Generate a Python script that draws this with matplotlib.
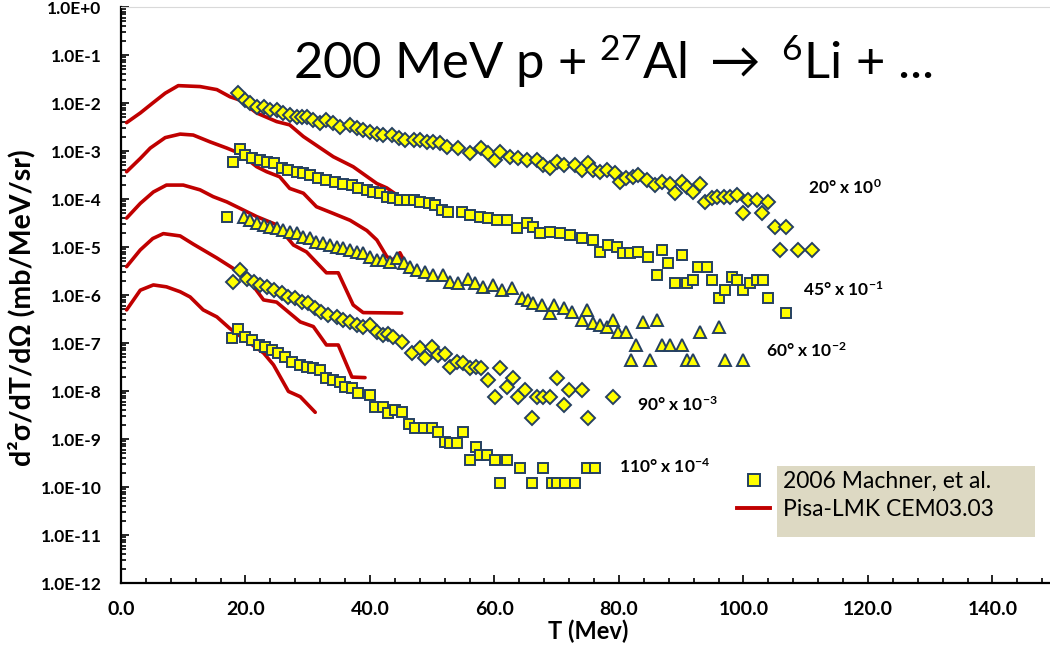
import numpy as np
import matplotlib.pyplot as plt
from matplotlib.ticker import FixedLocator, MultipleLocator, FuncFormatter, NullFormatter
from matplotlib.lines import Line2D
from matplotlib.patches import Rectangle

plt.rcParams['font.family'] = ['Lato', 'DejaVu Sans']
plt.rcParams['mathtext.fontset'] = 'custom'
plt.rcParams['mathtext.rm'] = 'Lato'
plt.rcParams['mathtext.it'] = 'Lato:italic'
plt.rcParams['mathtext.bf'] = 'Lato:bold'

# ---- measured data (2006 Machner, et al.), already scaled per angle ----
T20 = [18.8, 19.9, 20.7, 21.8, 22.9, 23.9, 25.0, 26.1, 27.2, 28.2, 29.0, 29.8, 30.9, 32.0, 33.0, 34.1,
       35.2, 36.8, 37.9, 38.9, 40.0, 41.1, 42.1, 43.5, 44.6, 45.6, 47.0, 48.0, 49.1, 50.2, 51.3, 52.3,
       54.2, 56.1, 57.9, 59.0, 60.1, 60.9, 62.5, 63.8, 65.2, 66.8, 67.8, 68.9, 70.0, 71.1, 72.9, 74.0,
       75.1, 75.9, 77.0, 78.0, 79.4, 80.2, 81.2, 82.3, 83.1, 84.5, 85.8, 86.9, 88.2, 89.0, 90.1, 90.9,
       91.9, 93.0, 93.8, 94.9, 95.7, 96.8, 97.8, 98.9, 100.0, 100.8, 102.1, 102.9, 104.0, 105.1, 106.9,
       105.9, 108.8, 111.0]
v20 = [1.59e-2, 1.15e-2, 9.9e-3, 8.4e-3, 8.4e-3, 7.1e-3, 7.1e-3, 6.1e-3, 5.6e-3, 5.2e-3, 5.0e-3, 5.2e-3,
       4.4e-3, 3.8e-3, 4.4e-3, 3.8e-3, 3.2e-3, 3.5e-3, 3.0e-3, 2.7e-3, 2.5e-3, 2.3e-3, 2.15e-3, 2.15e-3,
       1.84e-3, 1.7e-3, 1.7e-3, 1.7e-3, 1.56e-3, 1.56e-3, 1.45e-3, 1.23e-3, 1.14e-3, 8.95e-4, 1.14e-3,
       8.95e-4, 6.5e-4, 9.7e-4, 7.6e-4, 7.0e-4, 6.5e-4, 6.5e-4, 5.1e-4, 4.4e-4, 6.0e-4, 5.1e-4, 5.1e-4,
       4.0e-4, 5.5e-4, 4.0e-4, 3.7e-4, 4.0e-4, 3.4e-4, 2.3e-4, 2.7e-4, 2.9e-4, 3.2e-4, 2.5e-4, 1.96e-4,
       2.3e-4, 2.1e-4, 1.31e-4, 2.3e-4, 1.8e-4, 1.42e-4, 2.1e-4, 8.8e-5, 1.03e-4, 1.12e-4, 1.12e-4,
       1.12e-4, 1.21e-4, 5.0e-5, 9.5e-5, 9.5e-5, 5.0e-5, 8.8e-5, 2.65e-5, 2.65e-5, 8.7e-6, 8.7e-6, 8.7e-6]

T45 = [18.0, 19.1, 19.9, 21.0, 22.3, 23.4, 24.5, 25.8, 26.9, 28.2, 29.3, 30.4, 31.7, 33.0, 34.4, 35.7,
       37.1, 38.1, 39.5, 40.5, 41.6, 42.7, 43.7, 44.8, 45.9, 47.0, 48.0, 49.4, 50.4, 51.5, 52.6, 54.7,
       56.1, 57.7, 59.0, 60.4, 62.0, 63.6, 65.2, 66.2, 67.3, 68.9, 70.5, 72.1, 74.0, 75.9, 77.0, 78.3,
       79.6, 80.7, 81.8, 83.1, 84.7, 86.1, 86.9, 87.9, 89.0, 90.1, 90.9, 91.9, 92.7, 94.1, 94.9, 96.0,
       97.0, 98.1, 98.9, 100.0, 101.0, 102.1, 103.2, 104.0, 106.9]
v45 = [6.0e-4, 1.08e-3, 8.3e-4, 7.0e-4, 6.5e-4, 6.0e-4, 5.5e-4, 4.4e-4, 4.0e-4, 3.7e-4, 3.4e-4, 3.2e-4,
       2.7e-4, 2.5e-4, 2.3e-4, 2.1e-4, 1.96e-4, 1.67e-4, 1.54e-4, 1.42e-4, 1.31e-4, 1.12e-4, 1.03e-4,
       9.5e-5, 9.5e-5, 9.5e-5, 8.8e-5, 8.1e-5, 7.5e-5, 5.9e-5, 5.4e-5, 5.4e-5, 4.6e-5, 4.3e-5, 4.0e-5,
       3.65e-5, 3.65e-5, 2.45e-5, 3.1e-5, 2.65e-5, 1.93e-5, 2.1e-5, 1.93e-5, 1.78e-5, 1.52e-5, 1.4e-5,
       8.0e-6, 1.1e-5, 1.01e-5, 7.4e-6, 7.4e-6, 8.0e-6, 6.3e-6, 2.6e-6, 8.7e-6, 4.6e-6, 1.75e-6, 6.8e-6,
       1.75e-6, 2.05e-6, 3.9e-6, 3.9e-6, 2.05e-6, 8.5e-7, 1.27e-6, 2.4e-6, 2.05e-6, 1.27e-6, 1.75e-6,
       2.05e-6, 2.05e-6, 8.5e-7, 4.2e-7]

T60 = [17.0, 19.7, 20.7, 21.8, 22.9, 23.9, 25.0, 26.1, 27.2, 28.2, 29.3, 30.4, 31.4, 32.5, 33.6, 34.7,
       35.7, 36.8, 37.9, 38.9, 40.0, 41.1, 42.1, 43.2, 44.3, 45.4, 46.4, 47.5, 48.8, 50.2, 51.8, 52.9,
       54.2, 55.8, 56.9, 58.2, 59.8, 61.2, 62.8, 64.4, 65.4, 66.2, 67.6, 68.9, 69.5, 71.1, 72.4, 74.0,
       74.8, 75.9, 77.0, 78.0, 79.1, 79.9, 81.2, 82.0, 82.8, 83.9, 85.0, 86.1, 86.9, 88.2, 90.1, 90.9,
       91.9, 93.0, 96.0, 97.0, 100.0]
v60 = [4.3e-5, 4.3e-5, 3.65e-5, 3.1e-5, 2.9e-5, 2.65e-5, 2.45e-5, 2.26e-5, 2.1e-5, 1.93e-5, 1.64e-5,
       1.52e-5, 1.29e-5, 1.19e-5, 1.1e-5, 1.01e-5, 9.4e-6, 8.7e-6, 8.0e-6, 7.4e-6, 6.3e-6, 5.4e-6, 5.4e-6,
       4.9e-6, 5.8e-6, 4.6e-6, 3.9e-6, 3.3e-6, 3.0e-6, 2.6e-6, 2.6e-6, 1.9e-6, 1.75e-6, 2.2e-6, 1.75e-6,
       1.49e-6, 1.6e-6, 1.27e-6, 1.38e-6, 8.5e-7, 7.9e-7, 6.7e-7, 6.2e-7, 4.2e-7, 6.2e-7, 5.3e-7, 4.5e-7,
       3.0e-7, 4.9e-7, 2.6e-7, 2.4e-7, 2.2e-7, 3.0e-7, 1.72e-7, 1.72e-7, 4.4e-8, 9.1e-8, 2.8e-7, 4.4e-8,
       3.0e-7, 9.1e-8, 9.1e-8, 9.1e-8, 4.4e-8, 4.4e-8, 1.72e-7, 2.2e-7, 4.4e-8, 4.4e-8]

T90 = [18.0, 19.1, 20.2, 21.3, 22.3, 23.4, 24.5, 25.8, 26.9, 28.0, 29.0, 30.1, 31.2, 32.2, 33.3, 34.7,
       35.7, 36.8, 37.9, 38.9, 40.0, 41.1, 42.1, 42.9, 43.7, 45.1, 46.7, 48.0, 48.8, 49.9, 51.0, 52.1,
       52.9, 53.9, 55.0, 56.1, 57.1, 57.9, 59.0, 60.1, 60.9, 62.0, 63.0, 63.8, 64.9, 66.0, 66.8, 67.8,
       68.9, 70.0, 71.1, 71.9, 74.0, 75.1, 79.1]
v90 = [1.9e-6, 3.3e-6, 2.2e-6, 1.9e-6, 1.6e-6, 1.49e-6, 1.27e-6, 1.08e-6, 9.2e-7, 8.5e-7, 7.2e-7, 6.7e-7,
       5.3e-7, 4.5e-7, 3.8e-7, 3.5e-7, 3.0e-7, 2.8e-7, 2.4e-7, 2.2e-7, 2.4e-7, 1.72e-7, 1.47e-7, 1.55e-7,
       1.35e-7, 1.06e-7, 6.1e-8, 7.8e-8, 4.8e-8, 8.4e-8, 5.6e-8, 5.8e-8, 3.2e-8, 4.1e-8, 3.8e-8, 3.0e-8,
       3.2e-8, 3.0e-8, 1.7e-8, 7.6e-9, 3.0e-8, 1.23e-8, 1.84e-8, 7.6e-9, 1.05e-8, 2.7e-9, 7.6e-9, 7.6e-9,
       7.6e-9, 1.84e-8, 5.1e-9, 1.05e-8, 1.05e-8, 2.7e-9, 7.6e-9]

T110 = [17.8, 18.8, 19.9, 21.0, 22.1, 23.1, 24.2, 25.3, 26.4, 27.4, 28.8, 29.8, 30.9, 32.0, 33.0, 34.1,
        35.2, 36.0, 37.1, 38.1, 40.0, 40.8, 42.1, 42.9, 44.0, 45.1, 46.2, 47.2, 48.6, 49.9, 51.0, 52.1,
        52.9, 53.9, 55.0, 56.1, 57.1, 57.7, 58.8, 60.1, 60.9, 62.0, 64.1, 66.0, 67.8, 69.2, 70.0, 71.3,
        72.9, 74.8, 76.1]
v110 = [1.25e-7, 2.0e-7, 1.35e-7, 1.15e-7, 9.1e-8, 8.4e-8, 7.1e-8, 6.1e-8, 5.2e-8, 4.1e-8, 3.5e-8, 3.2e-8,
        3.0e-8, 2.7e-8, 1.84e-8, 1.7e-8, 1.56e-8, 1.23e-8, 1.14e-8, 8.95e-9, 8.3e-9, 4.7e-9, 4.7e-9, 3.4e-9,
        4.0e-9, 3.7e-9, 2.1e-9, 1.67e-9, 1.67e-9, 1.67e-9, 1.42e-9, 8.8e-10, 8.1e-10, 8.1e-10, 1.42e-9,
        3.65e-10, 6.9e-10, 4.65e-10, 4.65e-10, 3.65e-10, 1.23e-10, 3.65e-10, 2.45e-10, 1.23e-10, 2.45e-10,
        1.23e-10, 1.23e-10, 1.23e-10, 1.23e-10, 2.45e-10, 2.45e-10]

# ---- Pisa-LMK CEM03.03 calculations ----
cT20 = [0.9, 3.1, 5.1, 7.1, 9.2, 12.7, 15.4, 17.5, 19.1, 21.8, 25.0, 27.1, 29.3, 34.1, 37.3, 41.1, 42.7, 44.8]
c20 = [3.9e-3, 6.2e-3, 1.0e-2, 1.6e-2, 2.3e-2, 2.2e-2, 1.9e-2, 1.35e-2, 1.15e-2, 6.2e-3, 4.1e-3, 3.5e-3,
       2.0e-3, 7.6e-4, 4.7e-4, 2.1e-4, 1.7e-4, 1.1e-4]
cT45 = [0.9, 3.1, 4.7, 7.1, 9.5, 11.6, 14.3, 17.0, 19.1, 21.8, 23.4, 25.5, 27.1, 29.3, 31.4, 34.1, 36.8,
        39.5, 41.1, 42.7, 43.7, 44.8, 45.4]
c45 = [3.7e-4, 7.0e-4, 1.15e-3, 1.9e-3, 2.25e-3, 2.15e-3, 1.55e-3, 1.15e-3, 8.9e-4, 4.7e-4, 3.7e-4, 2.9e-4,
       1.66e-4, 1.32e-4, 6.9e-5, 5.0e-5, 3.6e-5, 2.2e-5, 1.4e-5, 6.3e-6, 5.4e-6, 7.6e-6, 5.4e-6]
cT60 = [0.9, 3.1, 5.2, 7.3, 10.0, 12.7, 14.8, 17.0, 19.1, 21.8, 25.0, 27.7, 29.8, 33.0, 34.9, 37.3, 38.9, 45.1]
c60 = [4.0e-5, 8.1e-5, 1.4e-4, 1.95e-4, 1.95e-4, 1.55e-4, 1.12e-4, 8.7e-5, 6.4e-5, 4.3e-5, 2.9e-5, 1.1e-5,
       7.9e-6, 2.9e-6, 2.9e-6, 6.2e-7, 4.3e-7, 4.2e-7]
cT90 = [0.9, 3.1, 5.1, 6.8, 9.5, 11.6, 15.4, 18.0, 20.2, 22.9, 25.0, 27.1, 28.8, 30.9, 33.0, 34.9, 37.1, 39.2]
c90 = [3.9e-6, 8.7e-6, 1.5e-5, 1.9e-5, 1.7e-5, 1.15e-5, 5.9e-6, 3.6e-6, 2.35e-6, 7.9e-7, 7.1e-7, 4.2e-7,
       2.75e-7, 2.2e-7, 9.1e-8, 9.1e-8, 1.95e-8, 1.9e-8]
cT110 = [0.9, 3.1, 5.2, 7.3, 9.5, 11.1, 13.2, 15.4, 17.5, 19.6, 22.9, 24.5, 26.9, 28.8, 31.2]
c110 = [4.9e-7, 1.26e-6, 1.62e-6, 1.48e-6, 1.17e-6, 9.1e-7, 4.9e-7, 3.5e-7, 2.0e-7, 1.26e-7, 6.2e-8,
        3.5e-8, 9.8e-9, 7.6e-9, 3.6e-9]

labels = ['20° x 10$^{\\mathbf{0}}$', '45° x 10$^{\\mathbf{-1}}$', '60° x 10$^{\\mathbf{-2}}$',
          '90° x 10$^{\\mathbf{-3}}$', '110° x 10$^{\\mathbf{-4}}$']
label_pos = [(808, 188), (803, 290), (766, 351), (637, 405), (619, 467)]  # pixels

red = '#C00000'
face = '#FFFF00'
edge = '#254061'
W, H = 1050, 655

fig = plt.figure(figsize=(W / 100, H / 100), dpi=100)
ax = fig.add_axes([121 / W, 72 / H, 933.75 / W, 576 / H])
ax.set_yscale('log')

for cx, cy in [(cT20, c20), (cT45, c45), (cT60, c60), (cT90, c90), (cT110, c110)]:
    ax.plot(cx, cy, color=red, lw=2.6, solid_capstyle='round', solid_joinstyle='round', zorder=2)

mk = dict(ls='none', mfc=face, mec=edge, mew=1.4, zorder=3)
ax.plot(T20, v20, marker='D', ms=7.2, **mk)
ax.plot(T45, v45, marker='s', ms=7.5, **mk)
ax.plot(T60[:1], v60[:1], marker='s', ms=7.5, **mk)
ax.plot(T60[1:], v60[1:], marker='^', ms=8.5, **mk)
ax.plot(T90, v90, marker='D', ms=7.2, **mk)
ax.plot(T110, v110, marker='s', ms=7.5, **mk)

ax.set_xlim(0, 150)
ax.set_ylim(1e-12, 1)
ax.xaxis.set_major_locator(MultipleLocator(20))
ax.xaxis.set_minor_locator(MultipleLocator(4))
ax.xaxis.set_major_formatter(FuncFormatter(lambda v, p: '%.1f' % v))
ax.yaxis.set_major_locator(FixedLocator(10.0 ** np.arange(-12, 1)))
ax.yaxis.set_minor_locator(FixedLocator([m * 10.0 ** e for e in range(-12, 0) for m in range(2, 10)]))
ax.yaxis.set_major_formatter(FuncFormatter(lambda v, p: '1.0E%+d' % int(round(np.log10(v)))))
ax.yaxis.set_minor_formatter(NullFormatter())

ax.tick_params(which='both', direction='in', width=1.2, colors='black')
ax.tick_params(which='major', length=6)
ax.tick_params(which='minor', length=3.5)
ax.tick_params(axis='x', which='major', pad=13, labelsize=14)
ax.tick_params(axis='y', which='major', pad=14, labelsize=12.5)
for t in ax.get_xticklabels() + ax.get_yticklabels():
    t.set_fontweight('bold')

ax.spines['left'].set_linewidth(1.6)
ax.spines['bottom'].set_linewidth(1.6)
ax.spines['right'].set_visible(False)
ax.spines['top'].set_color('#d9d9d9')
ax.spines['top'].set_linewidth(0.8)

ax.set_xlabel('T (Mev)', fontsize=17, fontweight='bold', labelpad=1)
fig.text(22 / W, 1 - 308 / H, 'd²σ/dT/dΩ (mb/MeV/sr)', rotation=90, ha='center', va='center',
         fontsize=20.5, fontweight='bold')

fig.text(613 / W, 1 - 62 / H, '200 MeV p + $^{27}$Al $\\rightarrow$ $^{6}$Li + ...', ha='center',
         va='center', fontsize=36.5)

for txt, (px, py) in zip(labels, label_pos):
    fig.text(px / W, 1 - py / H, txt, ha='left', va='center', fontsize=12.5, fontweight='bold')

# legend: tan box with the keys hanging just outside on the left
ax.add_patch(Rectangle((777 / W, 1 - 537 / H), 258 / W, 71 / H, transform=fig.transFigure,
                       facecolor='#ddd9c3', edgecolor='none', clip_on=False, zorder=4))
handles = [Line2D([], [], ls='none', marker='s', ms=8.5, mfc=face, mec=edge, mew=1.4),
           Line2D([], [], color=red, lw=2.8)]
leg = ax.legend(handles, ['2006 Machner, et al.', 'Pisa-LMK CEM03.03'], loc='upper left',
                bbox_to_anchor=(737 / W, 1 - 471 / H), bbox_transform=fig.transFigure, frameon=False,
                fontsize=16.5, borderpad=0, borderaxespad=0, handlelength=1.45, handletextpad=0.55,
                labelspacing=0.3)
leg.set_zorder(5)

fig.savefig('out.png', dpi=100)
